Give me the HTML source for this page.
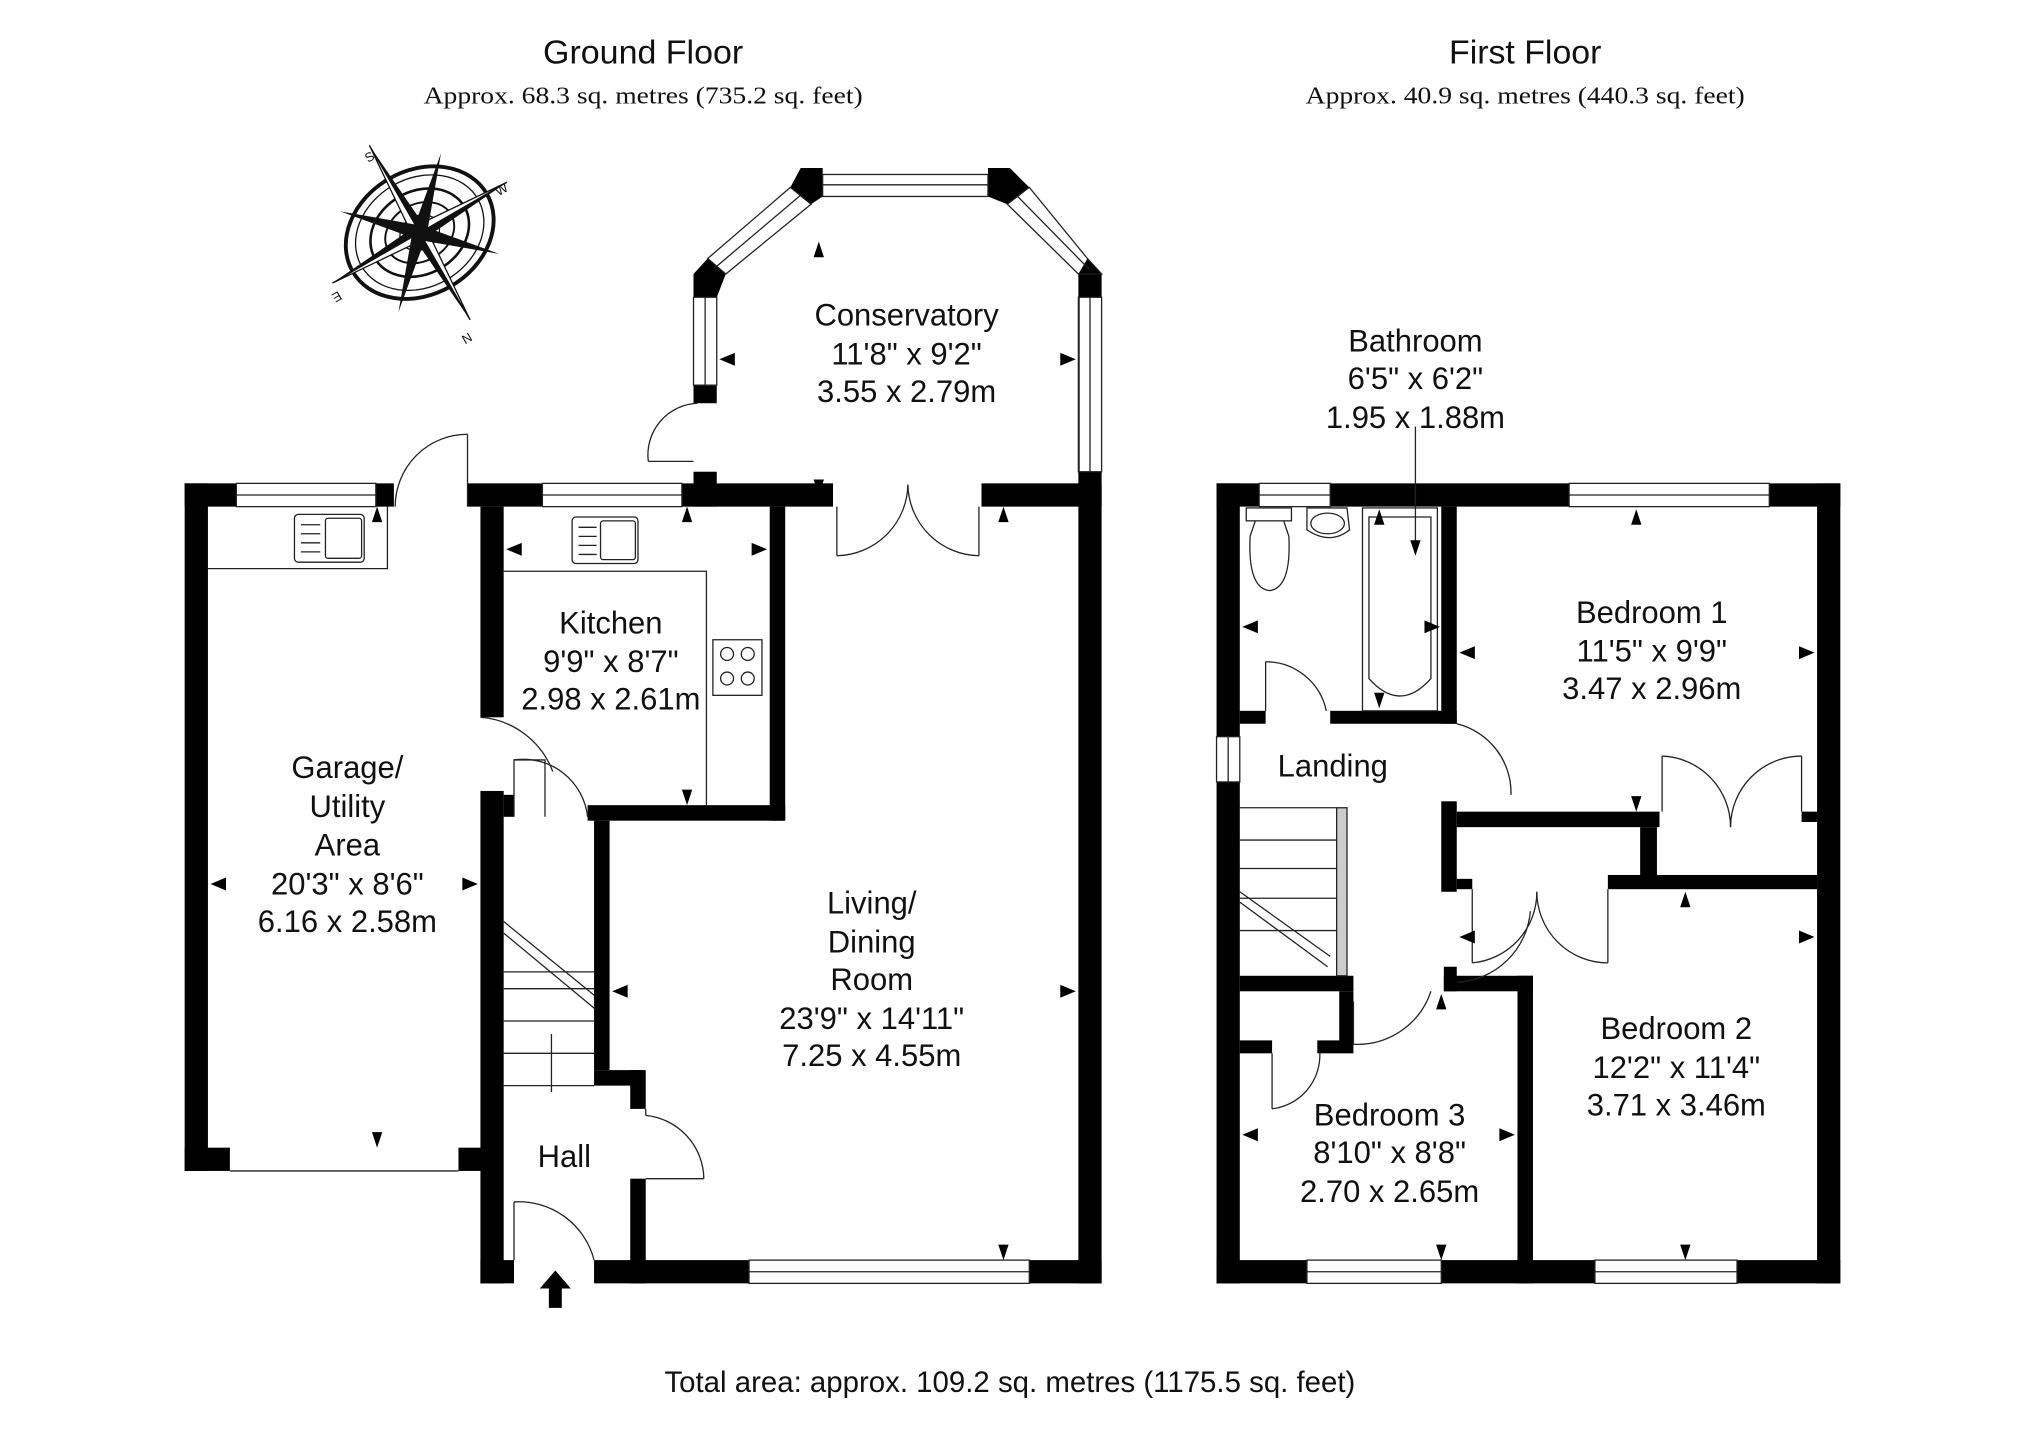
<!DOCTYPE html>
<html><head><meta charset="utf-8"><style>
html,body{margin:0;padding:0;background:#fff;}
svg{display:block;}
text{font-family:"Liberation Sans",Arial,sans-serif;fill:#111;}
.s{font-family:"Liberation Serif",serif;}
</style></head><body>
<svg width="2025" height="1432" viewBox="0 0 1568 1108" preserveAspectRatio="none" xmlns="http://www.w3.org/2000/svg">
<text x="498" y="49" font-size="26" text-anchor="middle" textLength="155" lengthAdjust="spacingAndGlyphs">Ground Floor</text>
<text x="498" y="80" font-size="19" text-anchor="middle" class="s" textLength="340" lengthAdjust="spacingAndGlyphs">Approx. 68.3 sq. metres (735.2 sq. feet)</text>
<text x="1181" y="49" font-size="26" text-anchor="middle" textLength="118" lengthAdjust="spacingAndGlyphs">First Floor</text>
<text x="1181" y="80" font-size="19" text-anchor="middle" class="s" textLength="340" lengthAdjust="spacingAndGlyphs">Approx. 40.9 sq. metres (440.3 sq. feet)</text>
<text x="782" y="1077" font-size="23" text-anchor="middle" textLength="535" lengthAdjust="spacingAndGlyphs">Total area: approx. 109.2 sq. metres (1175.5 sq. feet)</text>

<g transform="translate(325,180) rotate(-30)" fill="none" stroke="#111">
<ellipse rx="60" ry="48" stroke-width="3"/>
<ellipse rx="52" ry="42" stroke-width="1"/>
<ellipse rx="40" ry="32" stroke-width="2"/>
<ellipse rx="28" ry="22" stroke-width="1.5"/>
<ellipse rx="16" ry="13" stroke-width="1"/>
<g fill="#111" stroke="none">
<polygon points="0,-78 6,0 0,0"/><polygon points="0,78 -6,0 0,0"/>
<polygon points="-78,0 0,-6 0,0"/><polygon points="78,0 0,6 0,0"/>
<polygon points="0,-78 -6,0 0,0" fill="#fff" stroke="#111" stroke-width="1"/>
<polygon points="0,78 6,0 0,0" fill="#fff" stroke="#111" stroke-width="1"/>
<polygon points="-78,0 0,6 0,0" fill="#fff" stroke="#111" stroke-width="1"/>
<polygon points="78,0 0,-6 0,0" fill="#fff" stroke="#111" stroke-width="1"/>
<polygon points="-45,-45 4,-4 -4,4"/><polygon points="45,45 4,-4 -4,4"/>
<polygon points="45,-45 4,4 -4,-4"/><polygon points="-45,45 4,4 -4,-4"/>
</g>
</g>
<text x="285" y="126" font-size="10" transform="rotate(-30 285 126)">S</text>
<text x="386" y="152" font-size="10" transform="rotate(-30 386 152)">W</text>
<text x="363" y="257" font-size="10" transform="rotate(150 363 257)">N</text>
<text x="262" y="225" font-size="10" transform="rotate(150 262 225)">E</text>

<g fill="#000">
<rect x="143" y="374" width="18" height="532"/>
<rect x="143" y="374" width="40" height="18"/>
<rect x="291" y="374" width="14" height="18"/>
<rect x="143" y="888" width="35" height="18"/>
<rect x="355" y="888" width="20" height="18"/>
<rect x="362" y="374" width="58" height="18"/>
<rect x="528" y="374" width="117" height="18"/>
<rect x="537" y="365" width="18" height="27"/>
<rect x="760" y="374" width="93" height="18"/>
<rect x="835" y="365" width="18" height="628"/>
<rect x="372" y="392" width="18" height="163"/>
<rect x="372" y="612" width="18" height="381"/>
<rect x="390" y="615" width="8" height="17"/>
<rect x="596" y="392" width="12" height="243"/>
<rect x="455" y="623" width="153" height="12"/>
<rect x="460" y="635" width="12" height="193"/>
<rect x="460" y="828" width="37" height="12"/>
<rect x="488" y="828" width="12" height="30"/>
<rect x="488" y="912" width="12" height="81"/>
<rect x="372" y="975" width="26" height="18"/>
<rect x="460" y="975" width="120" height="18"/>
<rect x="797" y="975" width="56" height="18"/>
<polygon points="620,130 637,130 637,152 628,158 612,145"/>
<polygon points="765,130 782,130 797,145 780,158 765,152"/>
<polygon points="537,230 537,212 548,200 562,212 555,230"/>
<polygon points="835,212 842,200 853,212 853,230 835,230"/>
<rect x="537" y="298" width="18" height="14"/>
<rect x="835" y="230" width="1" height="135"/>
<polygon points="430,983 442,997 435,997 435,1012 425,1012 425,997 418,997"/>

<rect x="942" y="374" width="18" height="196"/>
<rect x="942" y="605" width="18" height="388"/>
<rect x="942" y="374" width="33" height="18"/>
<rect x="1030" y="374" width="185" height="18"/>
<rect x="1370" y="374" width="55" height="18"/>
<rect x="1407" y="374" width="18" height="619"/>
<rect x="942" y="975" width="70" height="18"/>
<rect x="1116" y="975" width="119" height="18"/>
<rect x="1345" y="975" width="80" height="18"/>
<rect x="1116" y="392" width="12" height="168"/>
<rect x="960" y="550" width="20" height="10"/>
<rect x="1030" y="550" width="98" height="10"/>
<rect x="1116" y="620" width="12" height="70"/>
<rect x="1128" y="628" width="157" height="12"/>
<rect x="1270" y="640" width="13" height="40"/>
<rect x="1245" y="677" width="162" height="11"/>
<rect x="1395" y="628" width="12" height="8"/>
<rect x="1128" y="680" width="12" height="8"/>
<rect x="1175" y="755" width="12" height="238"/>
<rect x="1118" y="755" width="69" height="12"/>
<rect x="1118" y="748" width="10" height="19"/>
<rect x="960" y="755" width="88" height="12"/>
<rect x="1037" y="767" width="11" height="41"/>
<rect x="960" y="805" width="25" height="10"/>
<rect x="1020" y="805" width="28" height="10"/>
</g>

<g fill="none" stroke="#222" stroke-width="1">
<rect x="183" y="374" width="108" height="18"/><line x1="183" y1="383" x2="291" y2="383"/>
<rect x="420" y="374" width="108" height="18"/><line x1="420" y1="383" x2="528" y2="383"/>
<rect x="580" y="975" width="217" height="18"/><line x1="580" y1="984" x2="797" y2="984"/>
<line x1="178" y1="906" x2="355" y2="906"/>
<rect x="637" y="135" width="128" height="17"/><line x1="637" y1="143" x2="765" y2="143"/>
<polygon points="548,200 612,145 628,158 562,212"/><line x1="555" y1="206" x2="620" y2="151"/>
<polygon points="797,145 842,200 853,212 835,212 780,158" /><line x1="788" y1="152" x2="843" y2="208"/>
<rect x="537" y="230" width="18" height="68"/><line x1="546" y1="230" x2="546" y2="298"/>
<rect x="835" y="230" width="18" height="135"/><line x1="844" y1="230" x2="844" y2="365"/>
<rect x="975" y="374" width="55" height="18"/><line x1="975" y1="383" x2="1030" y2="383"/>
<rect x="1215" y="374" width="155" height="18"/><line x1="1215" y1="383" x2="1370" y2="383"/>
<rect x="1012" y="975" width="104" height="18"/><line x1="1012" y1="984" x2="1116" y2="984"/>
<rect x="1235" y="975" width="110" height="18"/><line x1="1235" y1="984" x2="1345" y2="984"/>
<rect x="942" y="570" width="18" height="35"/><line x1="951" y1="570" x2="951" y2="605"/>

<line x1="362" y1="336" x2="362" y2="392"/><path d="M362,336 A56,56 0 0 0 306,392"/>
<line x1="502" y1="357" x2="537" y2="357"/><path d="M502,357 A40,40 0 0 1 540,312"/>
<line x1="648" y1="392" x2="648" y2="430"/><path d="M648,430 A56,56 0 0 0 703,375"/>
<line x1="758" y1="392" x2="758" y2="430"/><path d="M758,430 A56,56 0 0 1 703,375"/>
<path d="M372,555 A65,65 0 0 1 428,597"/>
<polyline points="398,632 398,588 422,588 422,632"/>
<path d="M398,588 A50,50 0 0 1 455,632"/>
<line x1="500" y1="858" x2="500" y2="863"/><path d="M500,863 A50,50 0 0 1 545,912"/><line x1="500" y1="912" x2="545" y2="912"/>
<line x1="398" y1="930" x2="398" y2="975"/><path d="M398,930 A60,60 0 0 1 460,975"/>
<line x1="390" y1="752" x2="460" y2="752"/>
<line x1="390" y1="765" x2="460" y2="765"/>
<line x1="390" y1="790" x2="460" y2="790"/>
<line x1="390" y1="815" x2="460" y2="815"/>
<line x1="390" y1="840" x2="460" y2="840"/>
<line x1="390" y1="713" x2="460" y2="770"/>
<line x1="390" y1="722" x2="460" y2="780"/>
<line x1="427" y1="845" x2="427" y2="800"/>
<polyline points="161,440 300,440 300,392"/>
<rect x="228" y="398" width="54" height="37" rx="3"/><rect x="252" y="401" width="28" height="31" rx="2"/>
<line x1="233" y1="406" x2="248" y2="406"/><line x1="233" y1="413" x2="248" y2="413"/><line x1="233" y1="420" x2="248" y2="420"/><line x1="233" y1="427" x2="248" y2="427"/>
<polyline points="390,442 547,442 547,623"/>
<rect x="443" y="400" width="51" height="36" rx="3"/><rect x="465" y="403" width="27" height="30" rx="2"/>
<line x1="448" y1="408" x2="462" y2="408"/><line x1="448" y1="415" x2="462" y2="415"/><line x1="448" y1="422" x2="462" y2="422"/><line x1="448" y1="429" x2="462" y2="429"/>
<rect x="552" y="495" width="38" height="43"/>
<circle cx="563" cy="506" r="5"/><circle cx="579" cy="506" r="5"/><circle cx="563" cy="525" r="5"/><circle cx="579" cy="525" r="5"/>

<rect x="965" y="393" width="35" height="10"/>
<path d="M972,403 L968,415 Q966,455 983,457 Q1000,455 998,415 L994,403"/>
<path d="M1012,393 L1043,393 L1045,410 Q1030,422 1012,410 Z"/>
<ellipse cx="1028" cy="405" rx="13" ry="8"/>
<rect x="1055" y="393" width="58" height="157"/>
<path d="M1060,400 L1108,400 L1108,525 Q1084,552 1060,525 Z"/>
<line x1="1096" y1="330" x2="1096" y2="420"/>
<line x1="980" y1="512" x2="980" y2="550"/><path d="M980,512 A48,48 0 0 1 1027,550"/>
<path d="M1128,560 A55,55 0 0 1 1170,615"/>
<line x1="1287" y1="628" x2="1287" y2="585"/><path d="M1287,585 A55,55 0 0 1 1340,640"/>
<line x1="1395" y1="628" x2="1395" y2="585"/><path d="M1395,585 A55,55 0 0 0 1340,640"/>
<line x1="1140" y1="688" x2="1140" y2="745"/><path d="M1140,745 A55,55 0 0 0 1190,690"/>
<line x1="1245" y1="688" x2="1245" y2="745"/><path d="M1245,745 A55,55 0 0 1 1190,690"/>
<path d="M1128,760 A60,60 0 0 0 1185,705"/>
<line x1="1048" y1="808" x2="1048" y2="775"/><path d="M1048,808 A60,60 0 0 0 1108,767"/>
<line x1="985" y1="815" x2="985" y2="858"/><path d="M985,858 A42,42 0 0 0 1022,815"/>
<line x1="960" y1="625" x2="1035" y2="625"/>
<line x1="960" y1="650" x2="1035" y2="650"/>
<line x1="960" y1="672" x2="1035" y2="672"/>
<line x1="960" y1="695" x2="1035" y2="695"/>
<line x1="960" y1="720" x2="1035" y2="720"/>
<line x1="960" y1="690" x2="1030" y2="740"/>
<line x1="960" y1="698" x2="1028" y2="748"/>
<rect x="1035" y="625" width="8" height="130" fill="#ccc"/>
</g>

<g fill="#000">
<polygon points="557,278 569,273 569,283"/><polygon points="833,278 821,273 821,283"/>
<polygon points="634,187 630,199 638,199"/><polygon points="634,383 630,371 638,371"/>
<polygon points="292,392 288,404 296,404"/><polygon points="292,888 288,876 296,876"/>
<polygon points="163,684 175,679 175,689"/><polygon points="370,684 358,679 358,689"/>
<polygon points="532,392 528,404 536,404"/><polygon points="532,623 528,611 536,611"/>
<polygon points="392,425 404,420 404,430"/><polygon points="594,425 582,420 582,430"/>
<polygon points="777,392 773,404 781,404"/><polygon points="777,975 773,963 781,963"/>
<polygon points="474,767 486,762 486,772"/><polygon points="833,767 821,762 821,772"/>
<polygon points="1068,394 1064,406 1072,406"/><polygon points="1068,548 1064,536 1072,536"/>
<polygon points="1096,430 1092,418 1100,418"/>
<polygon points="962,485 974,480 974,490"/><polygon points="1115,485 1103,480 1103,490"/>
<polygon points="1267,394 1263,406 1271,406"/><polygon points="1267,628 1263,616 1271,616"/>
<polygon points="1130,505 1142,500 1142,510"/><polygon points="1405,505 1393,500 1393,510"/>
<polygon points="1305,690 1301,702 1309,702"/><polygon points="1305,975 1301,963 1309,963"/>
<polygon points="1130,725 1142,720 1142,730"/><polygon points="1405,725 1393,720 1393,730"/>
<polygon points="1116,769 1112,781 1120,781"/><polygon points="1116,975 1112,963 1120,963"/>
<polygon points="962,878 974,873 974,883"/><polygon points="1173,878 1161,873 1161,883"/>
</g>

<g font-size="24" text-anchor="middle">
<text x="702" y="252">Conservatory</text><text x="702" y="282">11'8" x 9'2"</text><text x="702" y="311">3.55 x 2.79m</text>
<text x="473" y="490">Kitchen</text><text x="473" y="520">9'9" x 8'7"</text><text x="473" y="549">2.98 x 2.61m</text>
<text x="269" y="602">Garage/</text><text x="269" y="632">Utility</text><text x="269" y="662">Area</text><text x="269" y="692">20'3" x 8'6"</text><text x="269" y="721">6.16 x 2.58m</text>
<text x="675" y="707">Living/</text><text x="675" y="737">Dining</text><text x="675" y="766">Room</text><text x="675" y="796">23'9" x 14'11"</text><text x="675" y="825">7.25 x 4.55m</text>
<text x="437" y="903">Hall</text>
<text x="1096" y="272">Bathroom</text><text x="1096" y="301">6'5" x 6'2"</text><text x="1096" y="331">1.95 x 1.88m</text>
<text x="1279" y="482">Bedroom 1</text><text x="1279" y="512">11'5" x 9'9"</text><text x="1279" y="541">3.47 x 2.96m</text>
<text x="1032" y="601">Landing</text>
<text x="1298" y="804">Bedroom 2</text><text x="1298" y="834">12'2" x 11'4"</text><text x="1298" y="863">3.71 x 3.46m</text>
<text x="1076" y="871">Bedroom 3</text><text x="1076" y="900">8'10" x 8'8"</text><text x="1076" y="930">2.70 x 2.65m</text>
</g>
</svg>
</body></html>
